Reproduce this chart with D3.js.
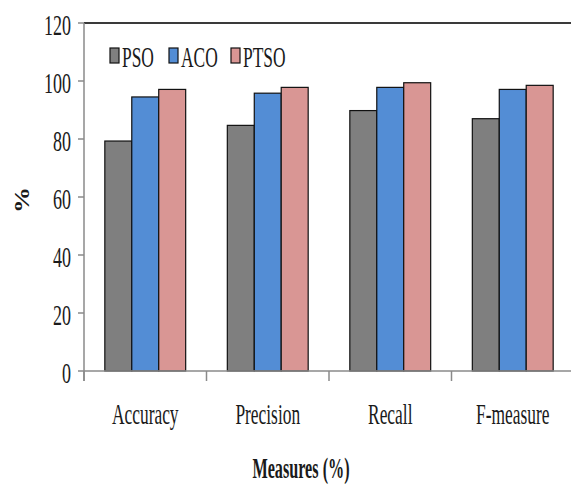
<!DOCTYPE html>
<html>
<head>
<meta charset="utf-8">
<script src="https://cdn.jsdelivr.net/npm/d3@7"></script>
<style>
  body { margin: 0; background: #fff; }
  text { font-family: "Liberation Serif", "Times New Roman", serif; fill: #1a1a1a; }
</style>
</head>
<body>
<div id="chart"></div>
<script>
// chart values
const measures = ["Accuracy", "Precision", "Recall", "F-measure"];
const methods = ["PSO", "ACO", "PTSO"];
const psoValues = [79.3, 84.7, 89.8, 87.0];
const acoValues = [94.5, 95.8, 97.8, 97.1];
const ptsoValues = [97.1, 97.8, 99.4, 98.5];
const yTicks = [0, 20, 40, 60, 80, 100, 120];
const colors = ["#7f7f7f", "#538dd5", "#d99694"];

const width = 571, height = 484;
const margin = { top: 23, right: -3, bottom: 113, left: 84 };

const series = [psoValues, acoValues, ptsoValues];
const data = measures.map((m, i) => ({
  measure: m,
  values: methods.map((k, j) => ({ key: k, value: series[j][i] }))
}));

const svg = d3.select("#chart")
  .append("svg")
  .attr("width", width)
  .attr("height", height);

const x0 = d3.scaleBand()
  .domain(measures)
  .range([margin.left, width - margin.right])
  .paddingInner(0.34)
  .paddingOuter(0.17);

const x1 = d3.scaleBand()
  .domain(methods)
  .range([0, x0.bandwidth()]);

const y = d3.scaleLinear()
  .domain([0, 120])
  .range([height - margin.bottom, margin.top]);

const color = d3.scaleOrdinal().domain(methods).range(colors);

// narrow, tall serif text like the original
function label(g, x, yy, txt, size, bold, anchor, sx) {
  return g.append("text")
    .attr("transform", `translate(${x},${yy}) scale(${sx || 0.87},1.45)`)
    .attr("text-anchor", anchor || "middle")
    .style("font-size", size + "px")
    .style("font-weight", bold ? "bold" : "normal")
    .text(txt);
}

// top border
svg.append("line")
  .attr("x1", margin.left).attr("x2", width)
  .attr("y1", y(120)).attr("y2", y(120))
  .attr("stroke", "#3a3a3a").attr("stroke-width", 2);

// bars
const groups = svg.selectAll(".group")
  .data(data)
  .enter()
  .append("g")
  .attr("class", "group")
  .attr("transform", d => `translate(${x0(d.measure)},0)`);

groups.selectAll("rect")
  .data(d => d.values)
  .enter()
  .append("rect")
  .attr("x", d => x1(d.key))
  .attr("y", d => y(d.value))
  .attr("width", x1.bandwidth())
  .attr("height", d => y(0) - y(d.value))
  .attr("fill", d => color(d.key))
  .attr("stroke", "#111")
  .attr("stroke-width", 1.2);

// y axis
const yAxis = svg.append("g");
yAxis.append("line")
  .attr("x1", margin.left).attr("x2", margin.left)
  .attr("y1", y(120)).attr("y2", y(0) + 10)
  .attr("stroke", "#8a8a8a").attr("stroke-width", 1.5);
yTicks.forEach(t => {
  yAxis.append("line")
    .attr("x1", margin.left - 6).attr("x2", margin.left)
    .attr("y1", y(t)).attr("y2", y(t))
    .attr("stroke", "#8a8a8a").attr("stroke-width", 1.5);
  label(yAxis, margin.left - 13, y(t) + 12, t, 20, false, "end", 0.9);
});

// x axis
const xAxis = svg.append("g");
xAxis.append("line")
  .attr("x1", margin.left).attr("x2", width)
  .attr("y1", y(0)).attr("y2", y(0))
  .attr("stroke", "#8a8a8a").attr("stroke-width", 1.5);
const step = x0.step();
d3.range(measures.length).forEach(i => {
  const bx = margin.left + i * step;
  xAxis.append("line")
    .attr("x1", bx).attr("x2", bx)
    .attr("y1", y(0)).attr("y2", y(0) + 10)
    .attr("stroke", "#8a8a8a").attr("stroke-width", 1.5);
});
measures.forEach(m => {
  label(xAxis, x0(m) + x0.bandwidth() / 2, 424, m, 20, false);
});

// axis titles
label(svg, 301, 478, "Measures (%)", 20, true, "middle", 0.81);
svg.append("text")
  .attr("transform", `translate(29,200) rotate(-90) scale(1.3,1)`)
  .attr("text-anchor", "middle")
  .style("font-size", "20px")
  .style("font-weight", "bold")
  .text("%");

// legend
const legendX = [110, 169, 231];
methods.forEach((k, i) => {
  svg.append("rect")
    .attr("x", legendX[i]).attr("y", 48)
    .attr("width", 9).attr("height", 15)
    .attr("fill", color(k))
    .attr("stroke", "#111").attr("stroke-width", 1.2);
  label(svg, legendX[i] + 12, 67, k, 20, false, "start");
});
</script>
</body>
</html>
